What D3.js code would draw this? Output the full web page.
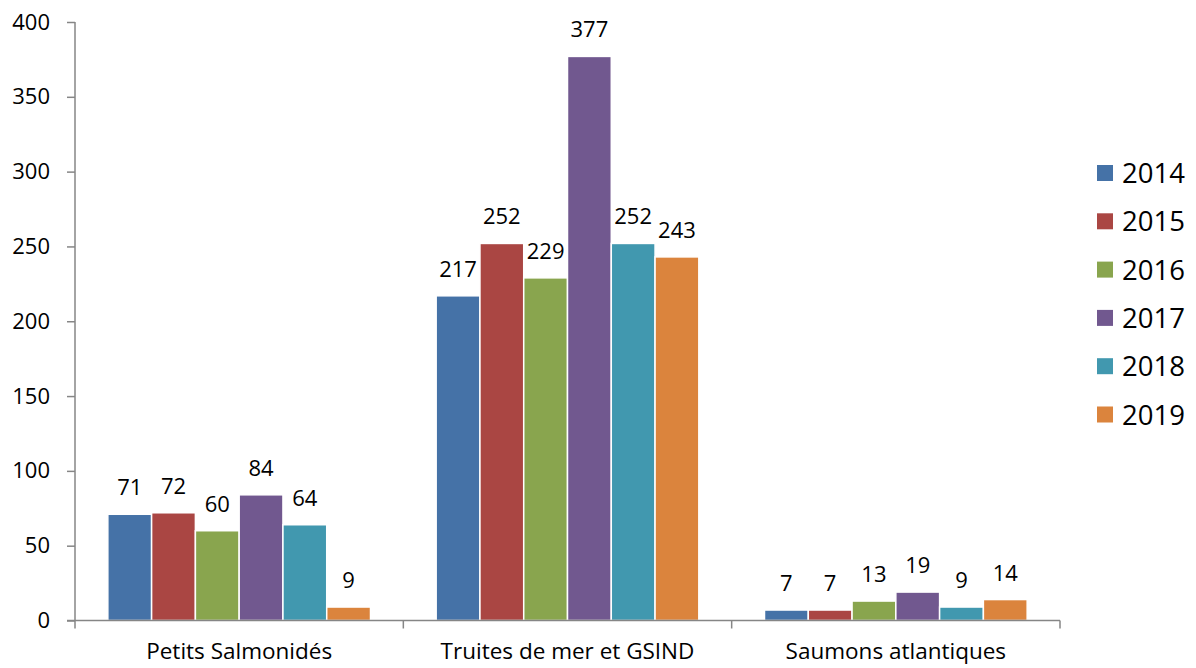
<!DOCTYPE html>
<html>
<head>
<meta charset="utf-8">
<script src="https://cdn.jsdelivr.net/npm/d3@7"></script>
<style>
  body { margin: 0; background: #fff; }
  text { font-family: "Open Sans", "Noto Sans", sans-serif; fill: #000; }
</style>
</head>
<body>
<script>
// data
var categories = ["Petits Salmonidés", "Truites de mer et GSIND", "Saumons atlantiques"];
var years = ["2014", "2015", "2016", "2017", "2018", "2019"];
var v2014 = [71, 217, 7];
var v2015 = [72, 252, 7];
var v2016 = [60, 229, 13];
var v2017 = [84, 377, 19];
var v2018 = [64, 252, 9];
var v2019 = [9, 243, 14];
var yTicks = [0, 50, 100, 150, 200, 250, 300, 350, 400];
var colors = ["#4572A7", "#AA4643", "#89A54E", "#71588F", "#4198AF", "#DB843D"];

var series = [v2014, v2015, v2016, v2017, v2018, v2019];

var width = 1196, height = 668;
var svg = d3.select("body").append("svg")
  .attr("width", width)
  .attr("height", height);

var plotLeft = 75, plotRight = 1060, plotTop = 22, plotBottom = 620.5;

var x0 = d3.scaleBand().domain(categories).range([plotLeft, plotRight]).paddingInner(0).paddingOuter(0);
// Excel gap width 150%: 6 bars + 1.5 bar of gap per category
var slot = x0.bandwidth() / 7.5;
var x1 = d3.scaleBand().domain(years).range([slot * 0.75, x0.bandwidth() - slot * 0.75]).padding(0);
var y = d3.scaleLinear().domain([0, 400]).range([plotBottom, plotTop]);

// y axis
var yAxis = svg.append("g").attr("transform", "translate(" + plotLeft + ",0)")
  .call(d3.axisLeft(y).tickValues(yTicks).tickSize(8).tickPadding(17));
yAxis.select(".domain").attr("stroke", "#868686").attr("stroke-width", 1.5).attr("d", "M0," + plotTop + "V" + (plotBottom + 8));
yAxis.selectAll(".tick line").attr("stroke", "#868686").attr("stroke-width", 1.5);
yAxis.selectAll(".tick text").style("font-size", "22px").attr("fill", "#000");

// bars
var groups = svg.selectAll("g.cat")
  .data(categories)
  .enter().append("g")
  .attr("class", "cat")
  .attr("transform", function(d) { return "translate(" + x0(d) + ",0)"; });

groups.selectAll("rect")
  .data(function(d, i) { return years.map(function(yr, j) { return {yr: yr, v: series[j][i], c: colors[j]}; }); })
  .enter().append("rect")
  .attr("x", function(d) { return x1(d.yr); })
  .attr("width", x1.bandwidth())
  .attr("y", function(d) { return y(d.v); })
  .attr("height", function(d) { return plotBottom - y(d.v); })
  .attr("fill", function(d) { return d.c; })
  .attr("stroke", "#fff")
  .attr("stroke-width", 1.5);

groups.selectAll("text.lbl")
  .data(function(d, i) { return years.map(function(yr, j) { return {yr: yr, v: series[j][i]}; }); })
  .enter().append("text")
  .attr("class", "lbl")
  .attr("x", function(d) { return x1(d.yr) + x1.bandwidth() / 2; })
  .attr("y", function(d) { return y(d.v) - 19; })
  .attr("text-anchor", "middle")
  .style("font-size", "22px")
  .text(function(d) { return d.v; });

// x axis
var xAxis = svg.append("g").attr("transform", "translate(0," + plotBottom + ")");
xAxis.append("line").attr("x1", plotLeft - 8).attr("x2", plotRight)
  .attr("stroke", "#868686").attr("stroke-width", 1.5);
xAxis.selectAll("line.tk")
  .data(categories.slice(1).map(function(c) { return x0(c); }).concat([plotRight]))
  .enter().append("line")
  .attr("class", "tk")
  .attr("x1", function(d) { return d; }).attr("x2", function(d) { return d; })
  .attr("y1", 0).attr("y2", 8)
  .attr("stroke", "#868686").attr("stroke-width", 1.5);
xAxis.selectAll("text")
  .data(categories)
  .enter().append("text")
  .attr("x", function(d) { return x0(d) + x0.bandwidth() / 2; })
  .attr("y", 38)
  .attr("text-anchor", "middle")
  .style("font-size", "22.5px")
  .text(function(d) { return d; });

// legend
var legend = svg.append("g").selectAll("g")
  .data(years)
  .enter().append("g")
  .attr("transform", function(d, i) { return "translate(1097," + (173 + i * 48.3) + ")"; });
legend.append("rect")
  .attr("x", 0).attr("y", -8).attr("width", 16).attr("height", 16)
  .attr("fill", function(d, i) { return colors[i]; });
legend.append("text")
  .attr("x", 25).attr("y", 10)
  .style("font-size", "27.5px")
  .text(function(d) { return d; });
</script>
</body>
</html>
